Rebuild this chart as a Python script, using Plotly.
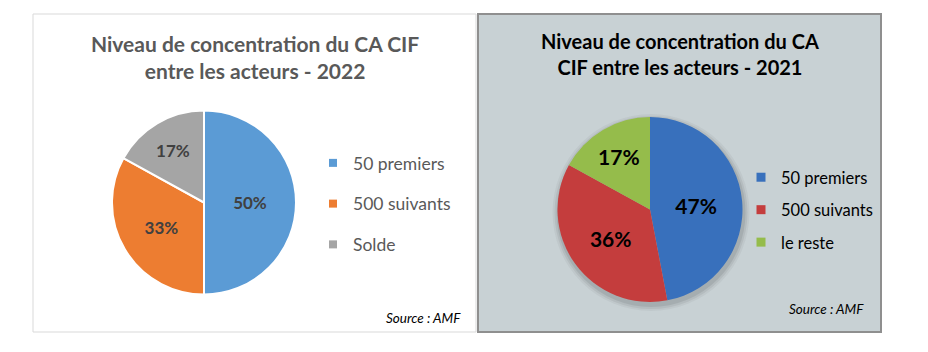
import plotly.graph_objects as go

W, H = 928, 352

# ---- data ----
cats_2022 = ["50 premiers", "500 suivants", "Solde"]
vals_2022 = [50, 33, 17]
cols_2022 = ["#5B9BD5", "#ED7D31", "#A5A5A5"]

cats_2021 = ["50 premiers", "500 suivants", "le reste"]
vals_2021 = [47, 36, 17]
cols_2021 = ["#3870BC", "#C43D3D", "#95BC4B"]

title_2022 = "Niveau de concentration du CA CIF<br>entre les acteurs - 2022"
title_2021 = "Niveau de concentration du CA<br>CIF entre les acteurs - 2021"
source_txt = "Source : AMF"

FONT = "Lato"


def px(x):
    return x / W


def py(y):
    return 1 - y / H


fig = go.Figure()

fig.add_trace(go.Pie(
    labels=cats_2022, values=vals_2022, sort=False, direction="clockwise", rotation=0,
    marker=dict(colors=cols_2022, line=dict(color="white", width=2)),
    textinfo="percent", textposition="inside", insidetextorientation="horizontal",
    textfont=dict(family=FONT, size=17, color="#404040", weight="bold"),
    domain=dict(x=[px(112), px(296)], y=[py(294.5), py(110.5)]),
    showlegend=False, hoverinfo="label+percent",
))

fig.add_trace(go.Pie(
    labels=cats_2021, values=vals_2021, sort=False, direction="clockwise", rotation=0,
    marker=dict(colors=cols_2021, line=dict(width=0)),
    textinfo="percent", textposition="inside", insidetextorientation="horizontal",
    textfont=dict(family=FONT, size=21, color="black", weight="bold"),
    domain=dict(x=[px(557.5), px(742.5)], y=[py(302), py(117)]),
    showlegend=False, hoverinfo="label+percent",
))

# legend entries (one per category)
for i, (c, col) in enumerate(zip(cats_2022, cols_2022)):
    fig.add_trace(go.Scatter(x=[None], y=[None], mode="markers", name=c,
                             marker=dict(symbol="square", size=8, color=col),
                             legend="legend", legendgroup="a%d" % i, showlegend=True))
for i, (c, col) in enumerate(zip(cats_2021, cols_2021)):
    fig.add_trace(go.Scatter(x=[None], y=[None], mode="markers", name=c,
                             marker=dict(symbol="square", size=9, color=col),
                             legend="legend2", legendgroup="b%d" % i, showlegend=True))

shapes = [
    dict(type="rect", xref="paper", yref="paper", x0=px(33), x1=px(476), y0=py(332), y1=py(14),
         fillcolor="white", line=dict(color="#D9D9D9", width=1), layer="below"),
    dict(type="rect", xref="paper", yref="paper", x0=px(478), x1=px(881), y0=py(332), y1=py(14),
         fillcolor="#C8D1D4", line=dict(color="#8F8F8F", width=2), layer="below"),
]
# soft shadow under the 2021 pie
for k, op in [(6, 0.04), (4, 0.06), (2, 0.08)]:
    shapes.append(dict(type="circle", xref="paper", yref="paper",
                       x0=px(650 - 92.5 - k + 1), x1=px(650 + 92.5 + k + 1),
                       y0=py(209.5 + 92.5 + k + 3), y1=py(209.5 - 92.5 - k + 3),
                       fillcolor="rgba(0,0,0,%.2f)" % op, line=dict(width=0), layer="below"))

annotations = [
    dict(text="<b>" + title_2022 + "</b>", x=px(255), y=py(29), xref="paper", yref="paper",
         xanchor="center", yanchor="top", showarrow=False, align="center",
         font=dict(family=FONT, size=21, color="#595959")),
    dict(text="<b>" + title_2021 + "</b>", x=px(680), y=py(27), xref="paper", yref="paper",
         xanchor="center", yanchor="top", showarrow=False, align="center",
         font=dict(family=FONT, size=20, color="black")),
    dict(text="<i>" + source_txt + "</i>", x=px(463), y=py(318), xref="paper", yref="paper",
         xanchor="right", yanchor="middle", showarrow=False,
         font=dict(family=FONT, size=13.5, color="black")),
    dict(text="<i>" + source_txt + "</i>", x=px(866), y=py(309), xref="paper", yref="paper",
         xanchor="right", yanchor="middle", showarrow=False,
         font=dict(family=FONT, size=13.5, color="black")),
]

fig.update_layout(
    width=W, height=H, margin=dict(l=0, r=0, t=0, b=0),
    paper_bgcolor="white", plot_bgcolor="rgba(0,0,0,0)",
    xaxis=dict(visible=False), yaxis=dict(visible=False),
    shapes=shapes, annotations=annotations,
    legend=dict(x=px(313), y=py(145), xanchor="left", yanchor="top",
                bgcolor="rgba(0,0,0,0)", traceorder="grouped", tracegroupgap=15,
                font=dict(family=FONT, size=17.5, color="#595959")),
    legend2=dict(x=px(741), y=py(160), xanchor="left", yanchor="top",
                 bgcolor="rgba(0,0,0,0)", traceorder="grouped", tracegroupgap=8,
                 font=dict(family=FONT, size=16.5, color="black")),
)

fig.write_html("out.html")
